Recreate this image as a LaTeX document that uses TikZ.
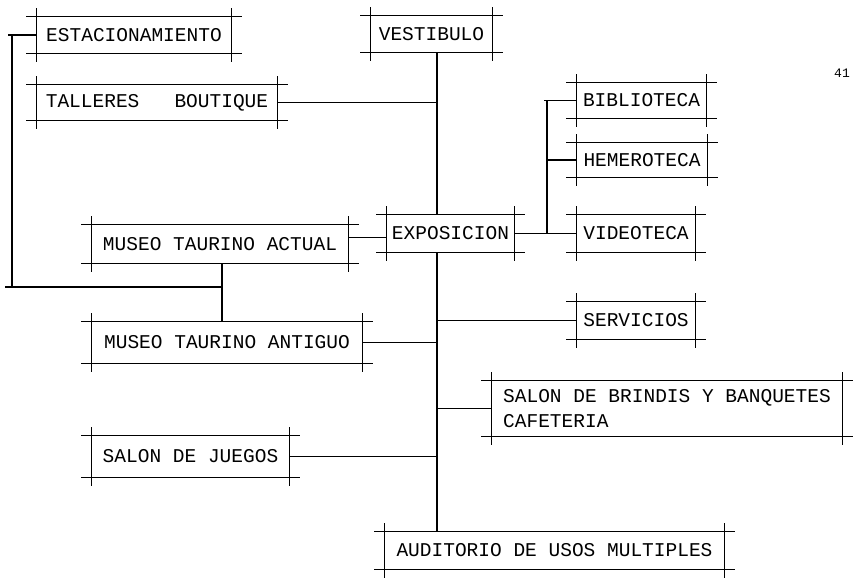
\documentclass[tikz,border=0pt]{standalone}
\usepackage{fontspec}
\setmonofont{Liberation Mono}

% frame with the lines running past the corners
\newcommand{\cajamarco}[1]{%
  \draw ([xshift=-10pt]#1.north west) -- ([xshift=10pt]#1.north east);
  \draw ([xshift=-10pt]#1.south west) -- ([xshift=10pt]#1.south east);
  \draw ([yshift=8pt]#1.north west) -- ([yshift=-8pt]#1.south west);
  \draw ([yshift=8pt]#1.north east) -- ([yshift=-8pt]#1.south east);}

\begin{document}
\begin{tikzpicture}[x=1pt, y=-1pt, line width=1.2pt,
    caja/.style={inner sep=0pt, font=\ttfamily\fontsize{19.5}{25}\selectfont}]

            \useasboundingbox (0,0) rectangle (853,582);

            % Draw the upper boxes
            \node[caja, minimum width=194pt, minimum height=36pt] (estac) at (134,35) {ESTACIONAMIENTO};
            \node[caja, minimum width=240pt, minimum height=35pt] (talleres) at (157,102.5) {TALLERES\ \ \ BOUTIQUE};
            \node[caja, minimum width=121pt, minimum height=36pt] (vestibulo) at (431.5,34) {VESTIBULO};

            % Draw the exhibition and its group
            \node[caja, minimum width=127pt, minimum height=37pt] (exposicion) at (450.5,233.5) {EXPOSICION};
            \node[caja, minimum width=129pt, minimum height=35pt] (biblioteca) at (641.5,100.5) {BIBLIOTECA};
            \node[caja, minimum width=130pt, minimum height=34pt] (hemeroteca) at (642,160) {HEMEROTECA};
            \node[caja, minimum width=118pt, minimum height=37pt] (videoteca) at (636,233.5) {VIDEOTECA};

            % Draw the museums
            \node[caja, minimum width=256pt, minimum height=38pt] (actual) at (220,244) {MUSEO TAURINO ACTUAL};
            \node[caja, minimum width=270pt, minimum height=41pt] (antiguo) at (227,342.5) {MUSEO TAURINO ANTIGUO};

            % Draw the lower boxes
            \node[caja, minimum width=118pt, minimum height=37pt] (servicios) at (636,320.5) {SERVICIOS};
            \node[caja, minimum width=350pt, minimum height=55pt, align=left] (brindis) at (667,408.5) {SALON DE BRINDIS Y BANQUETES\\CAFETERIA};
            \node[caja, minimum width=197pt, minimum height=41pt] (juegos) at (190.5,456.5) {SALON DE JUEGOS};
            \node[caja, minimum width=339pt, minimum height=37pt] (auditorio) at (554.5,550.5) {AUDITORIO DE USOS MULTIPLES};

            % page number
            \node[font=\ttfamily\fontsize{13}{13}\selectfont, inner sep=0pt] (pagina) at (842,73) {41};

            \foreach \n in {estac,talleres,vestibulo,exposicion,biblioteca,hemeroteca,videoteca,
                            actual,antiguo,servicios,brindis,juegos,auditorio} {\cajamarco{\n}}

            % Draw the main trunk
            \coordinate (tronco) at (437,0);
            \draw (vestibulo.south -| tronco) -- (exposicion.north -| tronco);
            \draw (exposicion.south -| tronco) -- (auditorio.north -| tronco);
            \draw (talleres.east) -- (talleres.east -| tronco);
            \draw (antiguo.east) -- (antiguo.east -| tronco);
            \draw (juegos.east) -- (juegos.east -| tronco);
            \draw (servicios.west) -- (servicios.west -| tronco);
            \draw (brindis.west) -- (brindis.west -| tronco);
            \draw ([yshift=-4pt]exposicion.west) -- ([yshift=-4pt]exposicion.west -| actual.east);

            % Draw the branch of the exhibition
            \coordinate (rama) at (547,0);
            \draw (exposicion.east) -- (exposicion.east -| rama);
            \draw (biblioteca.west -| rama) -- (videoteca.west -| rama);
            \draw ([xshift=-3pt]biblioteca.west -| rama) -- (biblioteca.west);
            \draw (hemeroteca.west -| rama) -- (hemeroteca.west);
            \draw (videoteca.west -| rama) -- (videoteca.west);

            % Draw the line of the parking and the museums
            \coordinate (izq) at (12,287);
            \coordinate (bajo) at (222,287);
            \draw ([xshift=-4pt]estac.west -| izq) -- (estac.west);
            \draw (estac.west -| izq) -- (izq);
            \draw ([xshift=-7pt]izq) -- (bajo);
            \draw (actual.south -| bajo) -- (antiguo.north -| bajo);

        \end{tikzpicture}
\end{document}
